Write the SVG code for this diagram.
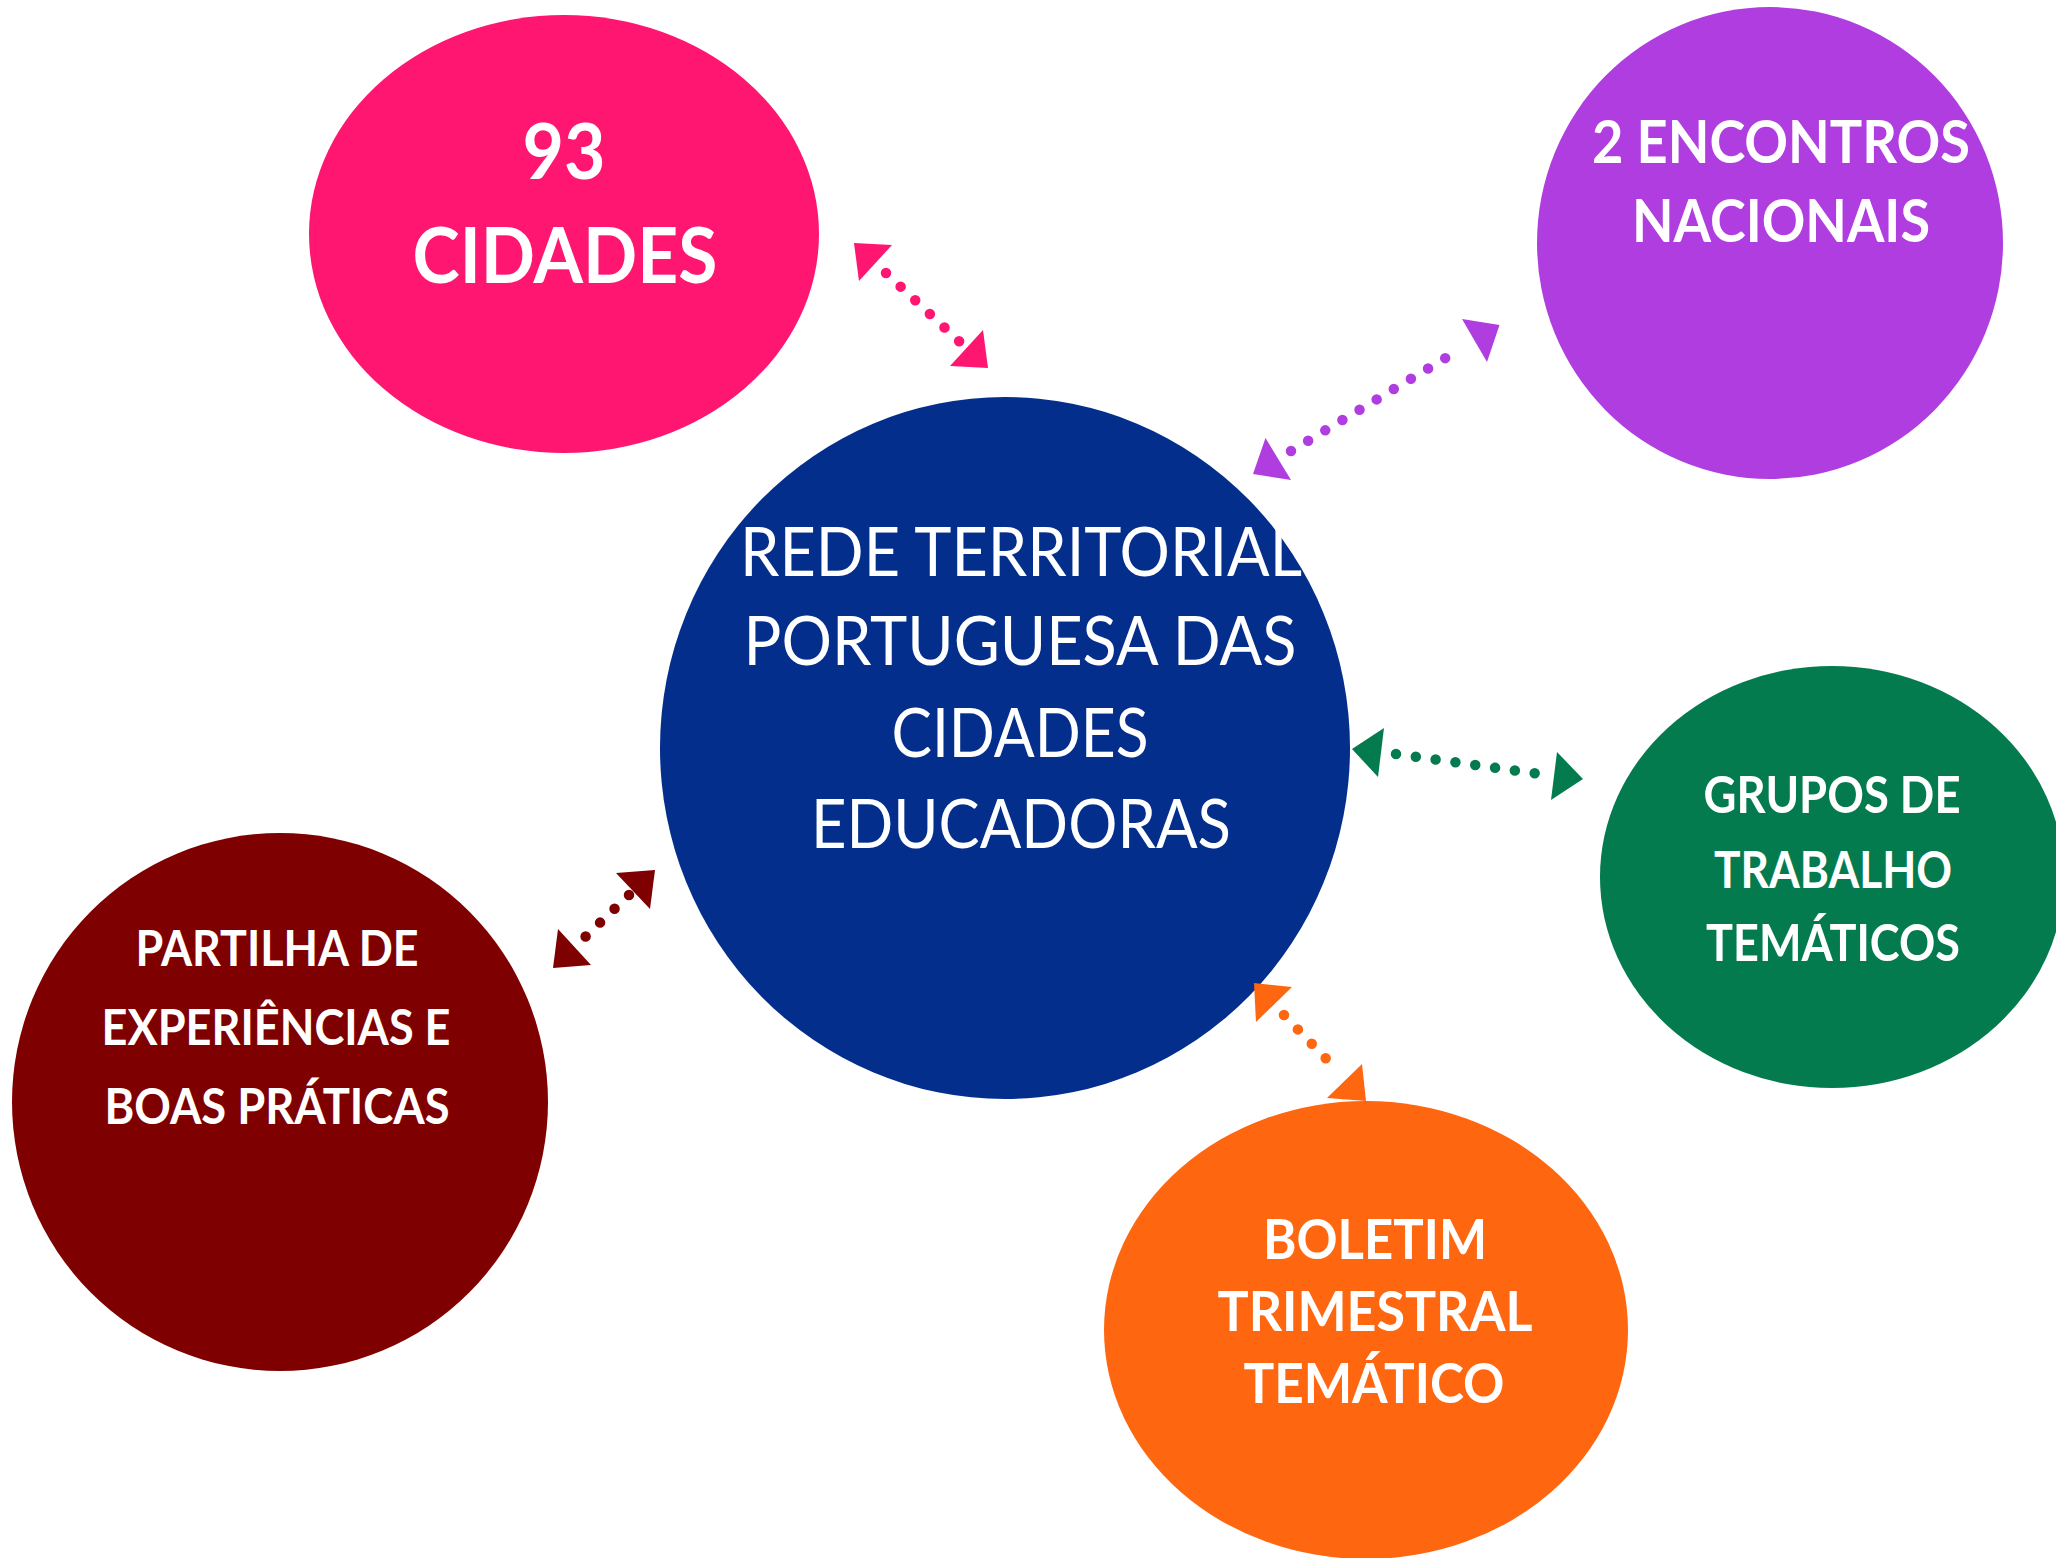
<svg xmlns="http://www.w3.org/2000/svg" width="2056" height="1558" viewBox="0 0 2056 1558">
<style>
  .lbl { font-family: Lato, "Open Sans", "Liberation Sans", sans-serif; fill: #FFFFFF; text-anchor: middle; }
  .b { font-weight: 700; }
  .r { font-weight: 400; }
  .dots { fill: none; stroke-width: 10.5; stroke-linecap: round; stroke-dasharray: 0 20; }
</style>
<rect x="0" y="0" width="2056" height="1558" fill="#FFFFFF"/>

<g id="node-cidades">
  <ellipse cx="564" cy="234" rx="255" ry="219" fill="#FE1670"/>
  <text class="lbl b" x="564" y="179" font-size="76" textLength="83" lengthAdjust="spacingAndGlyphs">93</text>
  <text class="lbl b" x="565" y="283" font-size="76" textLength="305" lengthAdjust="spacingAndGlyphs">CIDADES</text>
</g>

<g id="node-encontros">
  <ellipse cx="1770" cy="243" rx="233" ry="236" fill="#B03DE0"/>
  <text class="lbl b" x="1781" y="163" font-size="59" textLength="378" lengthAdjust="spacingAndGlyphs">2 ENCONTROS</text>
  <text class="lbl b" x="1781" y="242" font-size="59" textLength="298" lengthAdjust="spacingAndGlyphs">NACIONAIS</text>
</g>

<g id="node-rede">
  <ellipse cx="1005" cy="748" rx="345" ry="351" fill="#032E8C"/>
  <text class="lbl r" x="1021" y="576" font-size="67" textLength="562" lengthAdjust="spacingAndGlyphs">REDE TERRITORIAL</text>
  <text class="lbl r" x="1020" y="665" font-size="67" textLength="553" lengthAdjust="spacingAndGlyphs">PORTUGUESA DAS</text>
  <text class="lbl r" x="1020" y="757" font-size="67" textLength="257" lengthAdjust="spacingAndGlyphs">CIDADES</text>
  <text class="lbl r" x="1021" y="848" font-size="67" textLength="420" lengthAdjust="spacingAndGlyphs">EDUCADORAS</text>
</g>

<g id="node-grupos">
  <ellipse cx="1832" cy="877" rx="232" ry="211" fill="#047B4F"/>
  <text class="lbl b" x="1832" y="813" font-size="52" textLength="257" lengthAdjust="spacingAndGlyphs">GRUPOS DE</text>
  <text class="lbl b" x="1833" y="888" font-size="52" textLength="238" lengthAdjust="spacingAndGlyphs">TRABALHO</text>
  <text class="lbl b" x="1833" y="961" font-size="52" textLength="254" lengthAdjust="spacingAndGlyphs">TEMÁTICOS</text>
</g>

<g id="node-partilha">
  <ellipse cx="280" cy="1102" rx="268" ry="269" fill="#7F0000"/>
  <text class="lbl b" x="277" y="966" font-size="50" textLength="283" lengthAdjust="spacingAndGlyphs">PARTILHA DE</text>
  <text class="lbl b" x="276" y="1045" font-size="50" textLength="349" lengthAdjust="spacingAndGlyphs">EXPERIÊNCIAS E</text>
  <text class="lbl b" x="277" y="1124" font-size="50" textLength="345" lengthAdjust="spacingAndGlyphs">BOAS PRÁTICAS</text>
</g>

<g id="node-boletim">
  <ellipse cx="1366" cy="1330" rx="262" ry="229" fill="#FE660F"/>
  <text class="lbl b" x="1375" y="1259" font-size="56" textLength="224" lengthAdjust="spacingAndGlyphs">BOLETIM</text>
  <text class="lbl b" x="1375" y="1331" font-size="56" textLength="315" lengthAdjust="spacingAndGlyphs">TRIMESTRAL</text>
  <text class="lbl b" x="1374" y="1403" font-size="56" textLength="261" lengthAdjust="spacingAndGlyphs">TEMÁTICO</text>
</g>

<g id="connectors">
  <g id="conn-cidades">
    <line class="dots" stroke="#FE1670" x1="886" y1="273" x2="961" y2="343"/>
    <polygon fill="#FE1670" points="854,243 892,245 859,281"/>
    <polygon fill="#FE1670" points="950,366 988,368 983,330"/>
  </g>
  <g id="conn-encontros">
    <line class="dots" stroke="#B03DE0" x1="1291" y1="451" x2="1462" y2="348"/>
    <polygon fill="#B03DE0" points="1265.5,438 1253,474 1291,480"/>
    <polygon fill="#B03DE0" points="1462,319 1499.5,325 1487,362"/>
  </g>
  <g id="conn-grupos">
    <line class="dots" stroke="#047B4F" x1="1396" y1="754" x2="1554" y2="776"/>
    <polygon fill="#047B4F" points="1352,749 1384,728 1378,777"/>
    <polygon fill="#047B4F" points="1557,752 1583,779 1551,800"/>
  </g>
  <g id="conn-partilha">
    <line class="dots" stroke="#7F0000" x1="629" y1="895" x2="585" y2="937"/>
    <polygon fill="#7F0000" points="616,873 655,870 650,909"/>
    <polygon fill="#7F0000" points="558,929 553,968 591,965"/>
  </g>
  <g id="conn-boletim">
    <line class="dots" stroke="#FE660F" x1="1284" y1="1015" x2="1339" y2="1072"/>
    <polygon fill="#FE660F" points="1254,983 1292,987 1256,1022"/>
    <polygon fill="#FE660F" points="1362,1064 1366,1101 1327,1098"/>
  </g>
</g>
</svg>
